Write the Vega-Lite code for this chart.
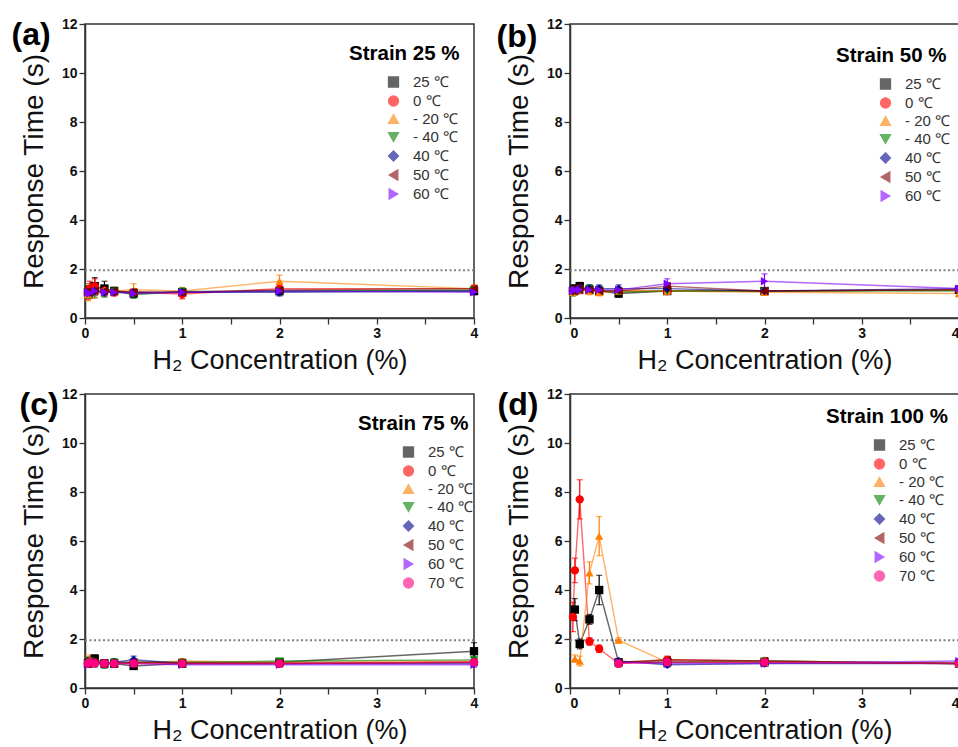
{
  "$schema": "https://vega.github.io/schema/vega-lite/v6.json",
  "background": "white",
  "padding": {"left": 10, "top": 16, "right": 0, "bottom": 0},
  "columns": 2,
  "spacing": {"row": 76, "column": 96},
  "bounds": "flush",
  "resolve": {"scale": {"color": "independent", "shape": "independent"}},
  "config": {
    "view": {"stroke": "#333", "strokeWidth": 1.5},
    "axis": {"domainColor": "#333", "domainWidth": 1.5, "tickColor": "#333", "tickWidth": 1.3, "labelFont": "Liberation Sans", "labelFontSize": 14, "labelFontWeight": "bold", "labelColor": "#111", "labelPadding": 2, "titleFont": "Liberation Sans", "titleFontSize": 27, "titleFontWeight": "normal", "titleColor": "#111", "grid": false},
    "legend": {"orient": "none", "titleFont": "Liberation Sans", "titleFontSize": 20.5, "titleFontWeight": "bold", "titleColor": "#000", "labelFont": "Liberation Sans", "labelFontSize": 15, "labelColor": "#333", "symbolSize": 100, "padding": 0, "rowPadding": 2, "titlePadding": 10, "symbolStrokeWidth": 1.3}
  },
  "datasets": {
    "ref": [{"y": 1.95}],
    "a": [
      {"s":"25 ℃","x":0.03,"v":1.05,"e":0.2},{"s":"25 ℃","x":0.05,"v":1.15,"e":0.25},{"s":"25 ℃","x":0.1,"v":1.3,"e":0.35},{"s":"25 ℃","x":0.2,"v":1.2,"e":0.3},{"s":"25 ℃","x":0.3,"v":1.1,"e":0.15},{"s":"25 ℃","x":0.5,"v":1.0,"e":0.15},{"s":"25 ℃","x":1,"v":1.05,"e":0.15},{"s":"25 ℃","x":2,"v":1.1,"e":0.15},{"s":"25 ℃","x":4,"v":1.1,"e":0.1},
      {"s":"0 ℃","x":0.03,"v":1.0,"e":0.25},{"s":"0 ℃","x":0.05,"v":1.2,"e":0.3},{"s":"0 ℃","x":0.1,"v":1.3,"e":0.3},{"s":"0 ℃","x":0.2,"v":1.1,"e":0.2},{"s":"0 ℃","x":0.3,"v":1.05,"e":0.15},{"s":"0 ℃","x":0.5,"v":1.05,"e":0.15},{"s":"0 ℃","x":1,"v":0.98,"e":0.2},{"s":"0 ℃","x":2,"v":1.2,"e":0.15},{"s":"0 ℃","x":4,"v":1.2,"e":0.1},
      {"s":"- 20 ℃","x":0.03,"v":0.95,"e":0.25},{"s":"- 20 ℃","x":0.05,"v":1.1,"e":0.3},{"s":"- 20 ℃","x":0.1,"v":1.1,"e":0.3},{"s":"- 20 ℃","x":0.2,"v":1.15,"e":0.2},{"s":"- 20 ℃","x":0.3,"v":1.1,"e":0.15},{"s":"- 20 ℃","x":0.5,"v":1.15,"e":0.25},{"s":"- 20 ℃","x":1,"v":1.1,"e":0.15},{"s":"- 20 ℃","x":2,"v":1.5,"e":0.25},{"s":"- 20 ℃","x":4,"v":1.2,"e":0.15},
      {"s":"- 40 ℃","x":0.03,"v":1.05,"e":0.25},{"s":"- 40 ℃","x":0.05,"v":1.0,"e":0.2},{"s":"- 40 ℃","x":0.1,"v":1.05,"e":0.2},{"s":"- 40 ℃","x":0.2,"v":1.0,"e":0.15},{"s":"- 40 ℃","x":0.3,"v":1.1,"e":0.15},{"s":"- 40 ℃","x":0.5,"v":0.95,"e":0.15},{"s":"- 40 ℃","x":1,"v":1.08,"e":0.15},{"s":"- 40 ℃","x":2,"v":1.1,"e":0.15},{"s":"- 40 ℃","x":4,"v":1.15,"e":0.1},
      {"s":"40 ℃","x":0.03,"v":1.05,"e":0.15},{"s":"40 ℃","x":0.05,"v":1.05,"e":0.15},{"s":"40 ℃","x":0.1,"v":1.1,"e":0.15},{"s":"40 ℃","x":0.2,"v":1.05,"e":0.1},{"s":"40 ℃","x":0.3,"v":1.05,"e":0.1},{"s":"40 ℃","x":0.5,"v":1.05,"e":0.1},{"s":"40 ℃","x":1,"v":1.05,"e":0.1},{"s":"40 ℃","x":2,"v":1.05,"e":0.15},{"s":"40 ℃","x":4,"v":1.1,"e":0.1},
      {"s":"50 ℃","x":0.03,"v":1.1,"e":0.15},{"s":"50 ℃","x":0.05,"v":1.05,"e":0.15},{"s":"50 ℃","x":0.1,"v":1.1,"e":0.15},{"s":"50 ℃","x":0.2,"v":1.1,"e":0.1},{"s":"50 ℃","x":0.3,"v":1.1,"e":0.1},{"s":"50 ℃","x":0.5,"v":1.05,"e":0.1},{"s":"50 ℃","x":1,"v":1.05,"e":0.1},{"s":"50 ℃","x":2,"v":1.15,"e":0.1},{"s":"50 ℃","x":4,"v":1.2,"e":0.1},
      {"s":"60 ℃","x":0.03,"v":1.05,"e":0.15},{"s":"60 ℃","x":0.05,"v":1.0,"e":0.15},{"s":"60 ℃","x":0.1,"v":1.1,"e":0.15},{"s":"60 ℃","x":0.2,"v":1.05,"e":0.1},{"s":"60 ℃","x":0.3,"v":1.05,"e":0.1},{"s":"60 ℃","x":0.5,"v":1.0,"e":0.1},{"s":"60 ℃","x":1,"v":1.05,"e":0.1},{"s":"60 ℃","x":2,"v":1.1,"e":0.1},{"s":"60 ℃","x":4,"v":1.05,"e":0.1}
    ],
    "b": [
      {"s":"25 ℃","x":0.03,"v":1.1,"e":0.15},{"s":"25 ℃","x":0.05,"v":1.2,"e":0.15},{"s":"25 ℃","x":0.1,"v":1.3,"e":0.15},{"s":"25 ℃","x":0.2,"v":1.15,"e":0.15},{"s":"25 ℃","x":0.3,"v":1.1,"e":0.15},{"s":"25 ℃","x":0.5,"v":1.0,"e":0.15},{"s":"25 ℃","x":1,"v":1.1,"e":0.1},{"s":"25 ℃","x":2,"v":1.1,"e":0.1},{"s":"25 ℃","x":4,"v":1.15,"e":0.1},
      {"s":"0 ℃","x":0.03,"v":1.1,"e":0.15},{"s":"0 ℃","x":0.05,"v":1.15,"e":0.15},{"s":"0 ℃","x":0.1,"v":1.2,"e":0.15},{"s":"0 ℃","x":0.2,"v":1.15,"e":0.15},{"s":"0 ℃","x":0.3,"v":1.1,"e":0.15},{"s":"0 ℃","x":0.5,"v":1.1,"e":0.1},{"s":"0 ℃","x":1,"v":1.1,"e":0.1},{"s":"0 ℃","x":2,"v":1.1,"e":0.1},{"s":"0 ℃","x":4,"v":1.15,"e":0.1},
      {"s":"- 20 ℃","x":0.03,"v":1.05,"e":0.15},{"s":"- 20 ℃","x":0.05,"v":1.1,"e":0.15},{"s":"- 20 ℃","x":0.1,"v":1.15,"e":0.15},{"s":"- 20 ℃","x":0.2,"v":1.1,"e":0.15},{"s":"- 20 ℃","x":0.3,"v":1.05,"e":0.15},{"s":"- 20 ℃","x":0.5,"v":1.1,"e":0.1},{"s":"- 20 ℃","x":1,"v":1.1,"e":0.1},{"s":"- 20 ℃","x":2,"v":1.05,"e":0.1},{"s":"- 20 ℃","x":4,"v":1.0,"e":0.15},
      {"s":"- 40 ℃","x":0.03,"v":1.05,"e":0.15},{"s":"- 40 ℃","x":0.05,"v":1.1,"e":0.15},{"s":"- 40 ℃","x":0.1,"v":1.15,"e":0.15},{"s":"- 40 ℃","x":0.2,"v":1.2,"e":0.15},{"s":"- 40 ℃","x":0.3,"v":1.15,"e":0.15},{"s":"- 40 ℃","x":0.5,"v":1.05,"e":0.1},{"s":"- 40 ℃","x":1,"v":1.1,"e":0.1},{"s":"- 40 ℃","x":2,"v":1.1,"e":0.1},{"s":"- 40 ℃","x":4,"v":1.1,"e":0.1},
      {"s":"40 ℃","x":0.03,"v":1.1,"e":0.15},{"s":"40 ℃","x":0.05,"v":1.15,"e":0.15},{"s":"40 ℃","x":0.1,"v":1.2,"e":0.15},{"s":"40 ℃","x":0.2,"v":1.2,"e":0.15},{"s":"40 ℃","x":0.3,"v":1.2,"e":0.15},{"s":"40 ℃","x":0.5,"v":1.2,"e":0.15},{"s":"40 ℃","x":1,"v":1.2,"e":0.1},{"s":"40 ℃","x":2,"v":1.1,"e":0.1},{"s":"40 ℃","x":4,"v":1.2,"e":0.1},
      {"s":"50 ℃","x":0.03,"v":1.1,"e":0.15},{"s":"50 ℃","x":0.05,"v":1.1,"e":0.15},{"s":"50 ℃","x":0.1,"v":1.15,"e":0.15},{"s":"50 ℃","x":0.2,"v":1.15,"e":0.15},{"s":"50 ℃","x":0.3,"v":1.1,"e":0.15},{"s":"50 ℃","x":0.5,"v":1.1,"e":0.1},{"s":"50 ℃","x":1,"v":1.3,"e":0.15},{"s":"50 ℃","x":2,"v":1.1,"e":0.1},{"s":"50 ℃","x":4,"v":1.15,"e":0.1},
      {"s":"60 ℃","x":0.03,"v":1.1,"e":0.15},{"s":"60 ℃","x":0.05,"v":1.15,"e":0.15},{"s":"60 ℃","x":0.1,"v":1.15,"e":0.15},{"s":"60 ℃","x":0.2,"v":1.15,"e":0.15},{"s":"60 ℃","x":0.3,"v":1.15,"e":0.15},{"s":"60 ℃","x":0.5,"v":1.15,"e":0.1},{"s":"60 ℃","x":1,"v":1.4,"e":0.2},{"s":"60 ℃","x":2,"v":1.5,"e":0.3},{"s":"60 ℃","x":4,"v":1.2,"e":0.1}
    ],
    "c": [
      {"s":"25 ℃","x":0.03,"v":1.0,"e":0.15},{"s":"25 ℃","x":0.05,"v":1.1,"e":0.15},{"s":"25 ℃","x":0.1,"v":1.2,"e":0.15},{"s":"25 ℃","x":0.2,"v":1.0,"e":0.15},{"s":"25 ℃","x":0.3,"v":1.0,"e":0.15},{"s":"25 ℃","x":0.5,"v":0.9,"e":0.1},{"s":"25 ℃","x":1,"v":1.0,"e":0.1},{"s":"25 ℃","x":2,"v":1.05,"e":0.1},{"s":"25 ℃","x":4,"v":1.5,"e":0.35},
      {"s":"0 ℃","x":0.03,"v":1.0,"e":0.15},{"s":"0 ℃","x":0.05,"v":1.1,"e":0.15},{"s":"0 ℃","x":0.1,"v":1.05,"e":0.15},{"s":"0 ℃","x":0.2,"v":1.0,"e":0.15},{"s":"0 ℃","x":0.3,"v":1.0,"e":0.15},{"s":"0 ℃","x":0.5,"v":1.05,"e":0.1},{"s":"0 ℃","x":1,"v":1.05,"e":0.1},{"s":"0 ℃","x":2,"v":1.0,"e":0.1},{"s":"0 ℃","x":4,"v":1.05,"e":0.1},
      {"s":"- 20 ℃","x":0.03,"v":1.05,"e":0.2},{"s":"- 20 ℃","x":0.05,"v":1.15,"e":0.2},{"s":"- 20 ℃","x":0.1,"v":1.1,"e":0.15},{"s":"- 20 ℃","x":0.2,"v":1.0,"e":0.15},{"s":"- 20 ℃","x":0.3,"v":1.05,"e":0.15},{"s":"- 20 ℃","x":0.5,"v":1.0,"e":0.1},{"s":"- 20 ℃","x":1,"v":1.1,"e":0.1},{"s":"- 20 ℃","x":2,"v":1.05,"e":0.1},{"s":"- 20 ℃","x":4,"v":1.1,"e":0.1},
      {"s":"- 40 ℃","x":0.03,"v":1.0,"e":0.15},{"s":"- 40 ℃","x":0.05,"v":1.1,"e":0.15},{"s":"- 40 ℃","x":0.1,"v":1.0,"e":0.15},{"s":"- 40 ℃","x":0.2,"v":0.95,"e":0.15},{"s":"- 40 ℃","x":0.3,"v":1.05,"e":0.15},{"s":"- 40 ℃","x":0.5,"v":1.05,"e":0.1},{"s":"- 40 ℃","x":1,"v":1.05,"e":0.1},{"s":"- 40 ℃","x":2,"v":1.1,"e":0.1},{"s":"- 40 ℃","x":4,"v":1.15,"e":0.1},
      {"s":"40 ℃","x":0.03,"v":1.0,"e":0.1},{"s":"40 ℃","x":0.05,"v":1.05,"e":0.1},{"s":"40 ℃","x":0.1,"v":1.05,"e":0.1},{"s":"40 ℃","x":0.2,"v":1.0,"e":0.1},{"s":"40 ℃","x":0.3,"v":1.05,"e":0.1},{"s":"40 ℃","x":0.5,"v":1.15,"e":0.15},{"s":"40 ℃","x":1,"v":1.0,"e":0.1},{"s":"40 ℃","x":2,"v":1.0,"e":0.1},{"s":"40 ℃","x":4,"v":1.0,"e":0.1},
      {"s":"50 ℃","x":0.03,"v":1.0,"e":0.1},{"s":"50 ℃","x":0.05,"v":1.05,"e":0.1},{"s":"50 ℃","x":0.1,"v":1.05,"e":0.1},{"s":"50 ℃","x":0.2,"v":1.0,"e":0.1},{"s":"50 ℃","x":0.3,"v":1.0,"e":0.1},{"s":"50 ℃","x":0.5,"v":1.05,"e":0.1},{"s":"50 ℃","x":1,"v":1.0,"e":0.1},{"s":"50 ℃","x":2,"v":1.0,"e":0.1},{"s":"50 ℃","x":4,"v":1.05,"e":0.1},
      {"s":"60 ℃","x":0.03,"v":0.95,"e":0.1},{"s":"60 ℃","x":0.05,"v":1.0,"e":0.1},{"s":"60 ℃","x":0.1,"v":1.05,"e":0.1},{"s":"60 ℃","x":0.2,"v":1.0,"e":0.1},{"s":"60 ℃","x":0.3,"v":1.0,"e":0.1},{"s":"60 ℃","x":0.5,"v":1.0,"e":0.1},{"s":"60 ℃","x":1,"v":0.95,"e":0.1},{"s":"60 ℃","x":2,"v":0.95,"e":0.1},{"s":"60 ℃","x":4,"v":0.95,"e":0.1},
      {"s":"70 ℃","x":0.03,"v":1.0,"e":0.1},{"s":"70 ℃","x":0.05,"v":1.05,"e":0.1},{"s":"70 ℃","x":0.1,"v":1.0,"e":0.1},{"s":"70 ℃","x":0.2,"v":1.0,"e":0.1},{"s":"70 ℃","x":0.3,"v":1.0,"e":0.1},{"s":"70 ℃","x":0.5,"v":1.0,"e":0.1},{"s":"70 ℃","x":1,"v":1.0,"e":0.1},{"s":"70 ℃","x":2,"v":1.0,"e":0.1},{"s":"70 ℃","x":4,"v":1.05,"e":0.1}
    ],
    "d": [
      {"s":"25 ℃","x":0.05,"v":3.2,"e":0.45},{"s":"25 ℃","x":0.1,"v":1.8,"e":0.2},{"s":"25 ℃","x":0.2,"v":2.8,"e":0.2},{"s":"25 ℃","x":0.3,"v":4.0,"e":0.6},{"s":"25 ℃","x":0.5,"v":1.05,"e":0.1},{"s":"25 ℃","x":1,"v":1.05,"e":0.1},{"s":"25 ℃","x":2,"v":1.05,"e":0.1},{"s":"25 ℃","x":4,"v":1.0,"e":0.1},
      {"s":"0 ℃","x":0.03,"v":2.9,"e":0.6},{"s":"0 ℃","x":0.05,"v":4.8,"e":0.5},{"s":"0 ℃","x":0.1,"v":7.7,"e":0.8},{"s":"0 ℃","x":0.2,"v":1.9,"e":0.15},{"s":"0 ℃","x":0.3,"v":1.6,"e":0.15},{"s":"0 ℃","x":0.5,"v":1.0,"e":0.15},{"s":"0 ℃","x":1,"v":1.15,"e":0.15},{"s":"0 ℃","x":2,"v":1.1,"e":0.1},{"s":"0 ℃","x":4,"v":1.0,"e":0.1},
      {"s":"- 20 ℃","x":0.05,"v":1.2,"e":0.15},{"s":"- 20 ℃","x":0.1,"v":1.1,"e":0.2},{"s":"- 20 ℃","x":0.2,"v":4.7,"e":0.45},{"s":"- 20 ℃","x":0.3,"v":6.2,"e":0.8},{"s":"- 20 ℃","x":0.5,"v":1.95,"e":0.1},{"s":"- 20 ℃","x":1,"v":1.05,"e":0.1},{"s":"- 20 ℃","x":2,"v":1.05,"e":0.1},{"s":"- 20 ℃","x":4,"v":1.0,"e":0.1},
      {"s":"- 40 ℃","x":0.5,"v":1.05,"e":0.1},{"s":"- 40 ℃","x":1,"v":1.05,"e":0.1},{"s":"- 40 ℃","x":2,"v":1.1,"e":0.1},{"s":"- 40 ℃","x":4,"v":1.0,"e":0.1},
      {"s":"40 ℃","x":0.5,"v":1.1,"e":0.1},{"s":"40 ℃","x":1,"v":0.95,"e":0.1},{"s":"40 ℃","x":2,"v":1.0,"e":0.1},{"s":"40 ℃","x":4,"v":1.0,"e":0.1},
      {"s":"50 ℃","x":0.5,"v":1.05,"e":0.1},{"s":"50 ℃","x":1,"v":1.15,"e":0.1},{"s":"50 ℃","x":2,"v":1.1,"e":0.1},{"s":"50 ℃","x":4,"v":1.0,"e":0.1},
      {"s":"60 ℃","x":0.5,"v":1.05,"e":0.1},{"s":"60 ℃","x":1,"v":1.0,"e":0.1},{"s":"60 ℃","x":2,"v":1.0,"e":0.1},{"s":"60 ℃","x":4,"v":1.1,"e":0.1},
      {"s":"70 ℃","x":0.5,"v":1.0,"e":0.1},{"s":"70 ℃","x":1,"v":1.05,"e":0.1},{"s":"70 ℃","x":2,"v":1.05,"e":0.1},{"s":"70 ℃","x":4,"v":1.0,"e":0.1}
    ]
  },
  "concat": [
    {
      "width": 389, "height": 294,
      "data": {"name": "a"},
      "resolve": {"axis": {"x": "independent"}},
      "layer": [
        {"data": {"name": "ref"}, "mark": {"type": "rule", "color": "#808080", "strokeDash": [2, 2.5], "strokeWidth": 2}, "encoding": {"y": {"field": "y", "type": "quantitative", "title": "Response Time (s)", "scale": {"domain": [0, 12], "nice": false}, "axis": {"values": [0,1,2,3,4,5,6,7,8,9,10,11,12], "labelExpr": "datum.value % 2 ? '' : '' + datum.value", "tickSize": 6, "titlePadding": 13, "titleFontSize": 28, "encode": {"ticks": {"x2": {"value": {"expr": "datum.value % 2 ? -3 : -6"}}}}}}}},
        {"data": {"name": "ref"}, "mark": {"type": "point", "opacity": 0}, "encoding": {"x": {"datum": 0, "type": "quantitative", "axis": {"orient": "top", "title": "(a)", "labels": false, "ticks": false, "domain": false, "titleFontSize": 32, "titleFontWeight": "bold", "titleColor": "#000", "titleAngle": 0, "titleAlign": "left", "titleBaseline": "alphabetic", "titleX": -74, "titleY": 20}}}},
        {"mark": {"type": "line", "strokeWidth": 1.4, "opacity": 0.6}, "encoding": {"x": {"field": "x", "type": "quantitative", "title": "H₂ Concentration (%)", "scale": {"domain": [0, 4], "nice": false, "zero": false}, "axis": {"orient": "bottom", "values": [0,0.5,1,1.5,2,2.5,3,3.5,4], "labelExpr": "datum.value % 1 ? '' : '' + datum.value", "labelOverlap": false, "labelFlush": false, "tickSize": 6, "titlePadding": 7, "encode": {"ticks": {"y2": {"value": {"expr": "datum.value % 1 ? 3 : 6"}}}}}}, "y": {"field": "v", "type": "quantitative", "title": "Response Time (s)"},
          "color": {"field": "s", "type": "nominal", "scale": {"domain": ["25 ℃","0 ℃","- 20 ℃","- 40 ℃","40 ℃","50 ℃","60 ℃"], "range": ["#000000","#ff0000","#ff8000","#008000","#00008b","#800000","#8000ff"]},
            "legend": {"orient": "none", "title": "Strain 25 %", "legendX": 264, "legendY": 20, "symbolOffset": 37, "labelOffset": 12}}}},
        {"mark": {"type": "errorbar", "ticks": {"size": 6}, "thickness": 1.2}, "encoding": {"x": {"field": "x", "type": "quantitative", "axis": null}, "y": {"field": "v", "type": "quantitative", "title": "Response Time (s)"}, "yError": {"field": "e"}, "color": {"field": "s", "type": "nominal"}}},
        {"mark": {"type": "point", "filled": true, "size": 70, "opacity": 1}, "encoding": {"x": {"field": "x", "type": "quantitative", "axis": null}, "y": {"field": "v", "type": "quantitative", "title": "Response Time (s)"},
          "shape": {"field": "s", "type": "nominal", "scale": {"domain": ["25 ℃","0 ℃","- 20 ℃","- 40 ℃","40 ℃","50 ℃","60 ℃"], "range": ["square","circle","triangle-up","triangle-down","diamond","triangle-left","triangle-right"]}},
          "color": {"field": "s", "type": "nominal"}}}
      ]
    },
    {
      "width": 389, "height": 294,
      "data": {"name": "b"},
      "resolve": {"axis": {"x": "independent"}},
      "layer": [
        {"data": {"name": "ref"}, "mark": {"type": "rule", "color": "#808080", "strokeDash": [2, 2.5], "strokeWidth": 2}, "encoding": {"y": {"field": "y", "type": "quantitative", "title": "Response Time (s)", "scale": {"domain": [0, 12], "nice": false}, "axis": {"values": [0,1,2,3,4,5,6,7,8,9,10,11,12], "labelExpr": "datum.value % 2 ? '' : '' + datum.value", "tickSize": 6, "titlePadding": 13, "titleFontSize": 28, "encode": {"ticks": {"x2": {"value": {"expr": "datum.value % 2 ? -3 : -6"}}}}}}}},
        {"data": {"name": "ref"}, "mark": {"type": "point", "opacity": 0}, "encoding": {"x": {"datum": 0, "type": "quantitative", "axis": {"orient": "top", "title": "(b)", "labels": false, "ticks": false, "domain": false, "titleFontSize": 32, "titleFontWeight": "bold", "titleColor": "#000", "titleAngle": 0, "titleAlign": "left", "titleBaseline": "alphabetic", "titleX": -74, "titleY": 22}}}},
        {"mark": {"type": "line", "strokeWidth": 1.4, "opacity": 0.6}, "encoding": {"x": {"field": "x", "type": "quantitative", "title": "H₂ Concentration (%)", "scale": {"domain": [0, 4], "nice": false, "zero": false}, "axis": {"orient": "bottom", "values": [0,0.5,1,1.5,2,2.5,3,3.5,4], "labelExpr": "datum.value % 1 ? '' : '' + datum.value", "labelOverlap": false, "labelFlush": true, "tickSize": 6, "titlePadding": 7, "encode": {"ticks": {"y2": {"value": {"expr": "datum.value % 1 ? 3 : 6"}}}}}}, "y": {"field": "v", "type": "quantitative", "title": "Response Time (s)"},
          "color": {"field": "s", "type": "nominal", "scale": {"domain": ["25 ℃","0 ℃","- 20 ℃","- 40 ℃","40 ℃","50 ℃","60 ℃"], "range": ["#000000","#ff0000","#ff8000","#008000","#00008b","#800000","#8000ff"]},
            "legend": {"orient": "none", "title": "Strain 50 %", "legendX": 266, "legendY": 22, "symbolOffset": 42, "labelOffset": 12}}}},
        {"mark": {"type": "errorbar", "ticks": {"size": 6}, "thickness": 1.2}, "encoding": {"x": {"field": "x", "type": "quantitative", "axis": null}, "y": {"field": "v", "type": "quantitative", "title": "Response Time (s)"}, "yError": {"field": "e"}, "color": {"field": "s", "type": "nominal"}}},
        {"mark": {"type": "point", "filled": true, "size": 70, "opacity": 1}, "encoding": {"x": {"field": "x", "type": "quantitative", "axis": null}, "y": {"field": "v", "type": "quantitative", "title": "Response Time (s)"},
          "shape": {"field": "s", "type": "nominal", "scale": {"domain": ["25 ℃","0 ℃","- 20 ℃","- 40 ℃","40 ℃","50 ℃","60 ℃"], "range": ["square","circle","triangle-up","triangle-down","diamond","triangle-left","triangle-right"]}},
          "color": {"field": "s", "type": "nominal"}}}
      ]
    },
    {
      "width": 389, "height": 294,
      "data": {"name": "c"},
      "resolve": {"axis": {"x": "independent"}},
      "layer": [
        {"data": {"name": "ref"}, "mark": {"type": "rule", "color": "#808080", "strokeDash": [2, 2.5], "strokeWidth": 2}, "encoding": {"y": {"field": "y", "type": "quantitative", "title": "Response Time (s)", "scale": {"domain": [0, 12], "nice": false}, "axis": {"values": [0,1,2,3,4,5,6,7,8,9,10,11,12], "labelExpr": "datum.value % 2 ? '' : '' + datum.value", "tickSize": 6, "titlePadding": 13, "titleFontSize": 28, "encode": {"ticks": {"x2": {"value": {"expr": "datum.value % 2 ? -3 : -6"}}}}}}}},
        {"data": {"name": "ref"}, "mark": {"type": "point", "opacity": 0}, "encoding": {"x": {"datum": 0, "type": "quantitative", "axis": {"orient": "top", "title": "(c)", "labels": false, "ticks": false, "domain": false, "titleFontSize": 32, "titleFontWeight": "bold", "titleColor": "#000", "titleAngle": 0, "titleAlign": "left", "titleBaseline": "alphabetic", "titleX": -66, "titleY": 20}}}},
        {"mark": {"type": "line", "strokeWidth": 1.4, "opacity": 0.6}, "encoding": {"x": {"field": "x", "type": "quantitative", "title": "H₂ Concentration (%)", "scale": {"domain": [0, 4], "nice": false, "zero": false}, "axis": {"orient": "bottom", "values": [0,0.5,1,1.5,2,2.5,3,3.5,4], "labelExpr": "datum.value % 1 ? '' : '' + datum.value", "labelOverlap": false, "labelFlush": false, "tickSize": 6, "titlePadding": 7, "encode": {"ticks": {"y2": {"value": {"expr": "datum.value % 1 ? 3 : 6"}}}}}}, "y": {"field": "v", "type": "quantitative", "title": "Response Time (s)"},
          "color": {"field": "s", "type": "nominal", "scale": {"domain": ["25 ℃","0 ℃","- 20 ℃","- 40 ℃","40 ℃","50 ℃","60 ℃","70 ℃"], "range": ["#000000","#ff0000","#ff8000","#008000","#00008b","#800000","#8000ff","#ff007f"]},
            "legend": {"orient": "none", "title": "Strain 75 %", "legendX": 273, "legendY": 20, "symbolOffset": 43, "labelOffset": 12}}}},
        {"mark": {"type": "errorbar", "ticks": {"size": 6}, "thickness": 1.2}, "encoding": {"x": {"field": "x", "type": "quantitative", "axis": null}, "y": {"field": "v", "type": "quantitative", "title": "Response Time (s)"}, "yError": {"field": "e"}, "color": {"field": "s", "type": "nominal"}}},
        {"mark": {"type": "point", "filled": true, "size": 70, "opacity": 1}, "encoding": {"x": {"field": "x", "type": "quantitative", "axis": null}, "y": {"field": "v", "type": "quantitative", "title": "Response Time (s)"},
          "shape": {"field": "s", "type": "nominal", "scale": {"domain": ["25 ℃","0 ℃","- 20 ℃","- 40 ℃","40 ℃","50 ℃","60 ℃","70 ℃"], "range": ["square","circle","triangle-up","triangle-down","diamond","triangle-left","triangle-right","circle"]}},
          "color": {"field": "s", "type": "nominal"}}}
      ]
    },
    {
      "width": 389, "height": 294,
      "data": {"name": "d"},
      "resolve": {"axis": {"x": "independent"}},
      "layer": [
        {"data": {"name": "ref"}, "mark": {"type": "rule", "color": "#808080", "strokeDash": [2, 2.5], "strokeWidth": 2}, "encoding": {"y": {"field": "y", "type": "quantitative", "title": "Response Time (s)", "scale": {"domain": [0, 12], "nice": false}, "axis": {"values": [0,1,2,3,4,5,6,7,8,9,10,11,12], "labelExpr": "datum.value % 2 ? '' : '' + datum.value", "tickSize": 6, "titlePadding": 13, "titleFontSize": 28, "encode": {"ticks": {"x2": {"value": {"expr": "datum.value % 2 ? -3 : -6"}}}}}}}},
        {"data": {"name": "ref"}, "mark": {"type": "point", "opacity": 0}, "encoding": {"x": {"datum": 0, "type": "quantitative", "axis": {"orient": "top", "title": "(d)", "labels": false, "ticks": false, "domain": false, "titleFontSize": 32, "titleFontWeight": "bold", "titleColor": "#000", "titleAngle": 0, "titleAlign": "left", "titleBaseline": "alphabetic", "titleX": -73, "titleY": 20}}}},
        {"mark": {"type": "line", "strokeWidth": 1.4, "opacity": 0.6}, "encoding": {"x": {"field": "x", "type": "quantitative", "title": "H₂ Concentration (%)", "scale": {"domain": [0, 4], "nice": false, "zero": false}, "axis": {"orient": "bottom", "values": [0,0.5,1,1.5,2,2.5,3,3.5,4], "labelExpr": "datum.value % 1 ? '' : '' + datum.value", "labelOverlap": false, "labelFlush": true, "tickSize": 6, "titlePadding": 7, "encode": {"ticks": {"y2": {"value": {"expr": "datum.value % 1 ? 3 : 6"}}}}}}, "y": {"field": "v", "type": "quantitative", "title": "Response Time (s)"},
          "color": {"field": "s", "type": "nominal", "scale": {"domain": ["25 ℃","0 ℃","- 20 ℃","- 40 ℃","40 ℃","50 ℃","60 ℃","70 ℃"], "range": ["#000000","#ff0000","#ff8000","#008000","#00008b","#800000","#8000ff","#ff007f"]},
            "legend": {"orient": "none", "title": "Strain 100 %", "legendX": 256, "legendY": 13, "symbolOffset": 46, "labelOffset": 12}}}},
        {"mark": {"type": "errorbar", "ticks": {"size": 6}, "thickness": 1.2}, "encoding": {"x": {"field": "x", "type": "quantitative", "axis": null}, "y": {"field": "v", "type": "quantitative", "title": "Response Time (s)"}, "yError": {"field": "e"}, "color": {"field": "s", "type": "nominal"}}},
        {"mark": {"type": "point", "filled": true, "size": 70, "opacity": 1}, "encoding": {"x": {"field": "x", "type": "quantitative", "axis": null}, "y": {"field": "v", "type": "quantitative", "title": "Response Time (s)"},
          "shape": {"field": "s", "type": "nominal", "scale": {"domain": ["25 ℃","0 ℃","- 20 ℃","- 40 ℃","40 ℃","50 ℃","60 ℃","70 ℃"], "range": ["square","circle","triangle-up","triangle-down","diamond","triangle-left","triangle-right","circle"]}},
          "color": {"field": "s", "type": "nominal"}}}
      ]
    }
  ]
}
